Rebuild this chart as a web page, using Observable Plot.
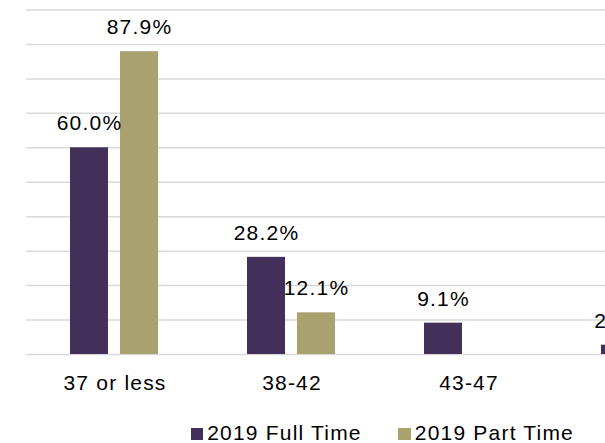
<!DOCTYPE html>
<html><head><meta charset="utf-8">
<script src="https://cdn.jsdelivr.net/npm/d3@7"></script>
<script src="https://cdn.jsdelivr.net/npm/@observablehq/plot@0.6"></script>
<style>
html,body{margin:0;padding:0;background:#fff;overflow:hidden;width:605px;height:443px;}
#chart{position:absolute;left:0;top:0;width:800px;}
#chart svg{max-width:none !important;}
.item{position:absolute;top:422px;font-family:"Liberation Sans",Arial,sans-serif;font-size:21px;letter-spacing:1.2px;line-height:1;white-space:nowrap;color:#000;}
.sw{display:inline-block;width:12.5px;height:12.5px;margin-right:4px;}
</style></head><body><div id="chart"></div><div id="legend"></div>
<script>
const categories = ["37 or less", "38-42", "43-47", "48-52"];
const series = ["2019 Full Time", "2019 Part Time"];
const fullTime = [60.0, 28.2, 9.1, 2.7];
const partTime = [87.9, 12.1, null, null];
const colors = ["#42305b", "#a9a26f"];
const yTicks = [0, 10, 20, 30, 40, 50, 60, 70, 80, 90, 100];

const data = categories.flatMap((c, i) => [
  {category: c, series: series[0], value: fullTime[i]},
  {category: c, series: series[1], value: partTime[i]}
]).filter(d => d.value != null);

const W = 26 + 177 * categories.length;
const chart = Plot.plot({
  width: W, height: 405,
  marginLeft: 26, marginRight: 0, marginTop: 9.5, marginBottom: 51,
  style: {fontFamily: "Liberation Sans, Arial, sans-serif", fontSize: "21px", color: "#000", background: "#fff", overflow: "visible", letterSpacing: "1.2px", maxWidth: "none"},
  fx: {domain: categories, padding: 0, label: null},
  x: {domain: series, paddingInner: 0.235, paddingOuter: 0.853, axis: null},
  y: {domain: [0, 100], axis: null},
  color: {domain: series, range: colors},
  marks: [
    Plot.ruleY(yTicks, {stroke: "#d9d9d9", strokeWidth: 1.5}),
    Plot.barY(data, {fx: "category", x: "series", y: "value", fill: "series"}),
    Plot.text(data, {fx: "category", x: "series", y: "value", text: d => d.value.toFixed(1) + "%", lineAnchor: "bottom", dy: -17.5, fill: "#000", fontSize: 21}),
    Plot.axisFx({anchor: "bottom", tickSize: 0, tickPadding: 21, fontSize: 21, label: null, fill: "#000"})
  ]
});
document.getElementById("chart").appendChild(chart);

const legend = document.getElementById("legend");
const lefts = [190.7, 398.3];
series.forEach((s, i) => {
  const it = document.createElement("div");
  it.className = "item";
  it.style.left = lefts[i] + "px";
  const sw = document.createElement("span");
  sw.className = "sw";
  sw.style.background = colors[i];
  it.appendChild(sw);
  it.appendChild(document.createTextNode(s));
  legend.appendChild(it);
});
</script></body></html>
